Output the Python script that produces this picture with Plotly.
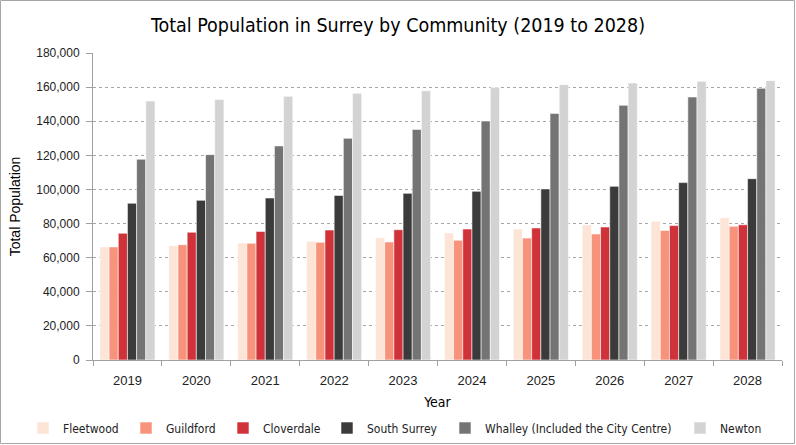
import plotly.graph_objects as go

years = ["2019", "2020", "2021", "2022", "2023", "2024", "2025", "2026", "2027", "2028"]
fleetwood = [66300, 67000, 68600, 69600, 71700, 74500, 76800, 79200, 81300, 83400]
guildford = [66300, 67600, 68400, 69000, 69200, 70200, 71500, 73900, 76000, 78400]
cloverdale = [74300, 74900, 75400, 76200, 76400, 76800, 77400, 78000, 78800, 79300]
south_surrey = [91900, 93600, 95000, 96500, 97700, 98900, 100300, 101800, 104000, 106300]
whalley = [117700, 120400, 125500, 130000, 135200, 140100, 144600, 149300, 154200, 159300]
newton = [151900, 152800, 154600, 156400, 157900, 159700, 161400, 162400, 163400, 163800]

series = [
    ("Fleetwood", fleetwood, "#FCE4D6"),
    ("Guildford", guildford, "#F8937B"),
    ("Cloverdale", cloverdale, "#D0323A"),
    ("South Surrey", south_surrey, "#3B3B3B"),
    ("Whalley (Included the City Centre)", whalley, "#747474"),
    ("Newton", newton, "#D3D3D3"),
]
# left edge of each legend label (pixels) in the reference layout
legend_text_x = [65, 168, 265, 369, 487, 722]

narrow = "DejaVu Sans Condensed, Liberation Sans Narrow, sans-serif"
reg = "Liberation Sans, Arial, sans-serif"

W, H = 796, 445
ml, mr, mt, mb = 93, 14, 53, 85
pw, ph = W - ml - mr, H - mt - mb

fig = go.Figure()
legends = {}
for i, (name, vals, col) in enumerate(series):
    lname = "legend" if i == 0 else f"legend{i + 1}"
    fig.add_trace(go.Bar(
        x=years, y=vals, name=name, legend=lname, showlegend=True,
        marker=dict(color=col, line=dict(color="rgba(255,255,255,0.7)", width=0.8)),
    ))
    legends[lname] = dict(
        orientation="h", xref="container", yref="container",
        x=(legend_text_x[i] - 42) / W, xanchor="left",
        y=1 - 428 / H, yanchor="middle",
        font=dict(family=narrow, size=12, color="#222222"),
        itemwidth=30, bgcolor="rgba(0,0,0,0)", visible=True,
    )

fig.update_layout(
    width=W, height=H, showlegend=True,
    margin=dict(l=ml, r=mr, t=mt, b=mb, autoexpand=False),
    paper_bgcolor="white", plot_bgcolor="white",
    barmode="group", bargap=0.2, bargroupgap=0,
    title=dict(text="Total Population in Surrey by Community (2019 to 2028)",
               x=0.5, xanchor="center", y=1 - 25 / H, yanchor="middle",
               font=dict(family=narrow, size=19.5, color="#000000")),
    font=dict(family=reg, size=12, color="#222222"),
    xaxis=dict(
        title=dict(text="Year", font=dict(family=narrow, size=14, color="#000000"), standoff=10),
        showline=True, linecolor="#A0A0A0", linewidth=1,
        ticks="outside", tickson="boundaries", ticklen=5, tickcolor="#A0A0A0",
        ticklabelstandoff=8,
        tickfont=dict(family=reg, size=13, color="#222222"),
        showgrid=False,
    ),
    yaxis=dict(
        title=dict(text="Total Population", font=dict(family=reg, size=14, color="#000000"), standoff=12),
        range=[0, 180000], dtick=20000, tickformat=",",
        showline=True, linecolor="#A0A0A0", linewidth=1,
        ticks="outside", ticklen=6, tickcolor="#A0A0A0",
        ticklabelstandoff=4,
        tickfont=dict(family=reg, size=12, color="#222222"),
        showgrid=True, gridcolor="#A6A6A6", griddash="dot", gridwidth=1,
        zeroline=False,
    ),
    shapes=[dict(type="rect", xref="paper", yref="paper",
                 x0=-(ml - 0.5) / pw, x1=1 + (mr - 1.5) / pw,
                 y0=-(mb - 1.5) / ph, y1=1 + (mt - 0.5) / ph,
                 line=dict(color="#A6A6A6", width=1), fillcolor="rgba(0,0,0,0)", layer="below")],
    **legends,
)

fig.write_html("out.html")
